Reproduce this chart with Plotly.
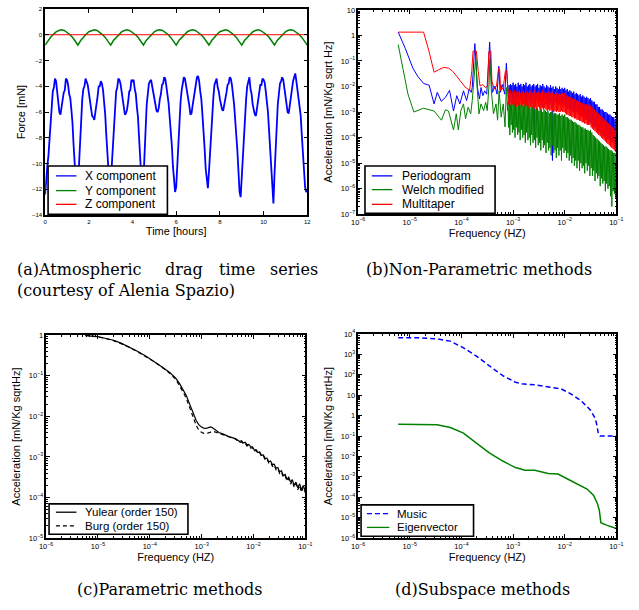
import numpy as np
import plotly.graph_objects as go

# ---------------- (a) Atmospheric drag time series ----------------
time_x = np.linspace(0, 12, 241)  # hours, 0.05 h sampling
force_x = [
    -12.4, -11.0, -10.2, -9.4, -8.0, -6.3, -5.5, -4.4, -4.1, -3.4, -3.6, -4.5, -5.0, -6.0, -6.2, -5.6, -5.4, -4.5, -4.3, -3.4,
    -3.5, -3.9, -4.6, -4.9, -5.8, -6.8, -8.5, -10.2, -11.3, -12.0, -11.8, -10.1, -8.2, -6.2, -5.0, -4.2, -4.0, -3.4, -3.6, -3.9,
    -4.5, -5.2, -5.6, -6.3, -6.4, -6.6, -6.0, -5.1, -4.8, -4.0, -4.0, -3.6, -3.8, -4.3, -5.2, -6.2, -7.8, -9.4, -10.8, -11.9,
    -11.6, -10.0, -8.8, -6.9, -5.6, -4.4, -4.1, -3.4, -3.5, -3.8, -4.4, -5.0, -5.4, -6.2, -6.1, -5.8, -5.2, -4.4, -4.3, -3.5,
    -3.6, -3.5, -4.2, -4.6, -5.6, -6.4, -8.0, -9.8, -11.0, -11.9, -11.4, -9.3, -7.2, -5.4, -4.6, -3.8, -3.6, -3.5, -4.0, -4.5,
    -4.9, -5.6, -5.9, -6.0, -5.7, -5.0, -4.6, -3.9, -3.8, -3.3, -3.4, -4.0, -4.6, -5.3, -6.4, -7.4, -8.6, -10.2, -11.2, -12.2,
    -11.8, -10.0, -8.4, -6.4, -5.2, -4.3, -3.9, -3.3, -3.4, -3.9, -4.3, -5.0, -5.5, -6.2, -6.1, -5.5, -5.0, -4.2, -4.0, -3.3,
    -3.2, -3.6, -4.4, -5.0, -6.2, -7.3, -8.8, -10.4, -11.5, -11.9, -10.6, -9.0, -7.4, -5.8, -4.9, -3.9, -3.6, -3.4, -4.1, -4.4,
    -5.0, -5.5, -5.8, -5.9, -5.5, -4.9, -4.5, -3.9, -3.8, -3.3, -3.4, -3.9, -4.6, -5.4, -6.6, -7.6, -9.0, -10.6, -12.2, -12.6,
    -11.0, -9.2, -7.6, -6.0, -5.0, -4.0, -3.7, -3.3, -4.2, -4.6, -5.4, -5.8, -6.2, -6.3, -5.6, -5.0, -4.6, -3.9, -3.9, -3.4,
    -3.5, -3.7, -4.4, -5.0, -6.0, -7.4, -9.0, -11.0, -12.6, -13.1, -10.8, -8.8, -7.0, -5.4, -4.6, -3.8, -3.6, -3.3, -3.5, -4.2,
    -4.8, -5.5, -6.0, -6.1, -5.4, -4.7, -4.2, -3.6, -3.3, -3.0, -3.6, -4.2, -5.0, -5.6, -6.3, -7.8, -9.5, -10.8, -11.8, -12.2,
    -12.1,
]
time_y = np.linspace(0, 12, 97)  # 0.125 h sampling
force_y = [
    -0.80, -0.45, -0.20, 0.03, 0.22, 0.33, 0.38, 0.33, 0.20, 0.02, -0.20, -0.48,
    -0.80, -0.45, -0.19, 0.04, 0.23, 0.34, 0.39, 0.33, 0.19, 0.01, -0.21, -0.49,
    -0.81, -0.45, -0.20, 0.03, 0.22, 0.33, 0.38, 0.32, 0.20, 0.02, -0.20, -0.48,
    -0.80, -0.44, -0.19, 0.04, 0.23, 0.34, 0.38, 0.33, 0.20, 0.02, -0.21, -0.49,
    -0.81, -0.45, -0.20, 0.03, 0.22, 0.33, 0.38, 0.33, 0.20, 0.02, -0.20, -0.48,
    -0.80, -0.45, -0.19, 0.04, 0.23, 0.34, 0.39, 0.33, 0.19, 0.01, -0.21, -0.49,
    -0.81, -0.45, -0.20, 0.03, 0.22, 0.33, 0.38, 0.32, 0.20, 0.02, -0.20, -0.48,
    -0.80, -0.44, -0.19, 0.04, 0.23, 0.34, 0.38, 0.33, 0.20, 0.02, -0.21, -0.49,
    -0.81,
]
time_z = [0, 12]
force_z = [0.0, 0.0]

# ---------------- (b) Non-parametric spectra (log10 values) ----------------
per_lo_f = [-5.224, -5.086, -4.94, -4.846, -4.733, -4.625, -4.53, -4.468, -4.39, -4.31, -4.23, -4.153, -4.09, -4.03,
            -3.96, -3.9, -3.85, -3.81, -3.79, -3.76, -3.74, -3.72, -3.69, -3.65, -3.62, -3.585, -3.55, -3.51, -3.48,
            -3.453, -3.43, -3.4, -3.35, -3.31, -3.276, -3.25, -3.21, -3.16, -3.13, -3.105]
per_lo_a = [0.13, -0.51, -1.28, -1.6, -1.88, -1.95, -2.68, -2.23, -2.58, -2.43, -2.15, -2.96, -2.36, -2.68,
            -2.17, -2.55, -2.1, -2.23, -2.04, -0.89, -0.32, -1.02, -2.04, -2.49, -2.04, -2.36, -2.17, -2.3, -1.4,
            -0.26, -1.4, -2.23, -1.98, -2.3, -1.21, -2.23, -1.92, -2.3, -1.09, -2.17]
welch_lo_f = [-5.224, -5.13, -5.035, -4.92, -4.733, -4.53, -4.386, -4.31, -4.25, -4.153, -4.1, -4.06, -4.01, -3.96,
              -3.92, -3.87, -3.82, -3.79, -3.75, -3.72, -3.70, -3.66, -3.62, -3.57, -3.53, -3.5, -3.465, -3.45,
              -3.42, -3.38, -3.33, -3.3, -3.27, -3.23, -3.19, -3.155, -3.13, -3.105]
welch_lo_a = [-0.36, -1.4, -2.3, -3.0, -2.85, -2.96, -3.32, -2.91, -2.96, -3.7, -3.07, -3.7, -2.94, -2.68,
              -3.26, -2.81, -3.07, -2.55, -1.4, -0.77, -1.92, -3.07, -2.68, -2.94, -2.62, -2.94, -1.92, -0.9,
              -2.17, -3.07, -2.68, -3.32, -2.17, -3.2, -2.68, -3.58, -2.04, -2.94]
mt_lo_f = [-5.224, -4.733, -4.625, -4.53, -4.44, -4.34, -4.25, -4.18, -4.09, -3.995, -3.93, -3.84, -3.8, -3.775,
           -3.71, -3.675, -3.64, -3.585, -3.535, -3.49, -3.47, -3.43, -3.41, -3.365, -3.32, -3.28, -3.26, -3.24,
           -3.19, -3.15, -3.125, -3.1]
mt_lo_a = [0.13, 0.13, -0.64, -1.44, -1.34, -1.25, -1.28, -1.38, -1.6, -1.85, -2.02, -2.15, -1.4, -0.61,
           -0.61, -1.4, -1.98, -1.92, -2.04, -1.98, -0.64, -0.61, -1.79, -2.1, -1.98, -1.28, -1.34, -2.17,
           -2.04, -1.4, -1.38, -2.17]

# dense noisy band above ~8e-4 Hz: alternating upper (hi) and lower (lo) readings
band_f = np.linspace(-3.1, -1.0, 169)
per_hi = [-2.0, -1.95, -1.9, -1.95, -1.85, -1.95, -1.9, -2.0, -1.85, -1.95,
          -1.9, -2.0, -1.9, -1.95, -1.85, -2.0, -1.95, -1.9, -2.0, -1.95,
          -1.9, -2.0, -1.95, -1.9, -2.05, -1.95, -2.0, -1.9, -2.0, -2.05,
          -1.95, -2.0, -2.05, -1.95, -2.05, -2.0, -2.1, -2.0, -2.05, -2.1,
          -2.0, -2.1, -2.05, -2.1, -2.05, -2.15, -2.1, -2.2, -2.15, -2.2,
          -2.25, -2.2, -2.3, -2.25, -2.3, -2.35, -2.3, -2.4, -2.35, -2.4,
          -2.45, -2.4, -2.45, -2.5, -2.45, -2.55, -2.6, -2.6, -2.7, -2.7,
          -2.8, -2.8, -2.9, -2.9, -2.95, -3.0, -3.0, -3.05, -3.1, -3.1,
          -3.15, -3.2, -3.2, -3.3, -3.25]
per_lo = [-2.5, -2.7, -2.4, -2.6, -2.5, -2.8, -2.45, -2.6, -2.7, -2.5,
          -2.6, -2.45, -2.7, -2.55, -2.6, -2.8, -2.5, -2.6, -2.7, -2.5,
          -4.0, -2.6, -2.5, -2.7, -2.6, -2.55, -2.8, -2.6, -2.5, -2.7,
          -2.6, -2.65, -2.7, -2.6, -4.9, -2.7, -2.6, -2.8, -2.65, -2.7,
          -2.75, -2.7, -2.8, -2.75, -2.85, -2.8, -2.9, -2.85, -2.95, -2.9,
          -3.0, -2.95, -3.05, -3.0, -3.1, -3.1, -3.15, -3.2, -3.2, -3.25,
          -3.3, -3.3, -3.35, -3.4, -3.45, -3.5, -3.55, -3.6, -3.65, -3.7,
          -3.75, -3.8, -3.85, -3.9, -3.95, -4.0, -4.0, -4.05, -4.1, -4.15,
          -4.2, -4.2, -4.25, -4.3]
mt_hi = [-2.15, -2.2, -2.15, -2.25, -2.2, -2.15, -2.25, -2.2, -2.2, -2.15,
         -2.25, -2.2, -2.15, -2.25, -2.2, -2.2, -2.25, -2.15, -2.2, -2.25,
         -2.2, -2.15, -2.25, -2.2, -2.2, -2.25, -2.2, -2.15, -2.25, -2.2,
         -2.25, -2.2, -2.2, -2.25, -2.2, -2.25, -2.3, -2.2, -2.25, -2.3,
         -2.25, -2.3, -2.25, -2.3, -2.25, -2.35, -2.35, -2.4, -2.4, -2.45,
         -2.45, -2.5, -2.5, -2.55, -2.55, -2.6, -2.6, -2.65, -2.65, -2.7,
         -2.7, -2.7, -2.75, -2.7, -2.75, -2.8, -2.85, -2.9, -2.95, -3.0,
         -3.05, -3.1, -3.15, -3.2, -3.25, -3.3, -3.35, -3.4, -3.45, -3.5,
         -3.55, -3.6, -3.65, -3.7, -3.7]
mt_lo = [-2.7, -2.75, -2.65, -2.7, -2.75, -2.7, -2.8, -2.7, -2.75, -2.7,
         -2.8, -2.75, -2.7, -2.8, -2.75, -2.85, -2.75, -2.8, -2.85, -2.8,
         -2.85, -2.8, -2.9, -2.8, -2.85, -2.9, -2.85, -2.9, -2.85, -2.9,
         -2.95, -2.9, -2.95, -2.9, -2.95, -3.0, -2.95, -3.0, -2.95, -3.0,
         -3.0, -2.95, -3.0, -3.0, -3.05, -3.1, -3.1, -3.15, -3.15, -3.2,
         -3.2, -3.25, -3.25, -3.3, -3.3, -3.35, -3.35, -3.4, -3.4, -3.45,
         -3.45, -3.5, -3.5, -3.5, -3.6, -3.65, -3.7, -3.75, -3.8, -3.85,
         -3.9, -3.95, -4.0, -4.05, -4.1, -4.15, -4.2, -4.25, -4.3, -4.35,
         -4.4, -4.45, -4.5, -4.55]
welch_hi = [-2.6, -2.55, -2.7, -2.5, -2.55, -2.65, -2.6, -2.7, -2.55, -2.65,
            -2.7, -2.6, -2.75, -2.65, -2.7, -2.8, -2.7, -2.75, -2.85, -2.75,
            -2.8, -2.9, -2.8, -2.85, -2.95, -2.85, -2.9, -3.0, -2.9, -2.95,
            -3.0, -2.95, -3.05, -3.0, -3.0, -3.1, -3.05, -3.05, -3.1, -3.1,
            -3.05, -3.15, -3.1, -3.15, -3.1, -3.2, -3.2, -3.25, -3.3, -3.3,
            -3.35, -3.4, -3.4, -3.45, -3.5, -3.5, -3.55, -3.6, -3.6, -3.65,
            -3.65, -3.7, -3.7, -3.75, -3.7, -3.8, -3.9, -3.95, -4.0, -4.05,
            -4.1, -4.15, -4.2, -4.25, -4.3, -4.35, -4.35, -4.4, -4.45, -4.5,
            -4.5, -4.55, -4.6, -4.6, -4.65]
welch_lo = [-3.6, -3.9, -3.5, -3.8, -3.7, -4.0, -3.6, -3.9, -3.8, -4.1,
            -3.7, -4.0, -3.9, -4.2, -3.8, -4.1, -4.0, -4.3, -3.9, -4.2,
            -4.1, -4.4, -4.0, -4.3, -4.2, -4.5, -4.1, -4.4, -4.3, -4.6,
            -4.2, -4.5, -4.4, -4.7, -4.3, -4.6, -4.5, -4.8, -4.4, -4.7,
            -4.5, -4.9, -4.4, -4.6, -4.5, -4.8, -4.6, -4.9, -4.7, -5.0,
            -4.8, -5.1, -4.9, -5.2, -4.9, -5.3, -5.0, -5.2, -5.1, -5.4,
            -5.0, -5.3, -5.1, -5.5, -5.2, -5.5, -5.3, -5.7, -5.4, -5.6,
            -5.5, -5.9, -5.6, -5.8, -5.7, -6.1, -5.8, -6.0, -5.9, -6.3,
            -6.7, -6.1, -6.2, -6.4]

# ---------------- (c) Parametric spectra (log10 values) ----------------
yule_f = [-5.245, -5.0, -4.868, -4.7, -4.553, -4.4, -4.24, -4.08, -3.925, -3.77, -3.61, -3.5, -3.42, -3.35, -3.296,
          -3.25, -3.2, -3.15, -3.107, -3.06, -3.01, -2.96, -2.918, -2.87, -2.824, -2.79, -2.76, -2.667, -2.58, -2.478,
          -2.35, -2.30, -2.265, -2.23, -2.195, -2.16, -2.125, -2.09, -2.055, -2.02, -1.985, -1.95, -1.915, -1.88,
          -1.845, -1.81, -1.775, -1.74, -1.705, -1.67, -1.635, -1.60, -1.565, -1.53, -1.495, -1.46, -1.425, -1.39,
          -1.355, -1.32, -1.285, -1.25, -1.215, -1.18, -1.145, -1.11, -1.075, -1.04, -1.0]
yule_a = [-0.016, -0.04, -0.08, -0.13, -0.2, -0.29, -0.4, -0.52, -0.645, -0.78, -0.93, -1.06, -1.21, -1.37, -1.49,
          -1.64, -1.81, -1.97, -2.1, -2.2, -2.26, -2.29, -2.3, -2.28, -2.26, -2.28, -2.31, -2.40, -2.44, -2.50,
          -2.55, -2.58, -2.62, -2.60, -2.66, -2.64, -2.70, -2.69, -2.75, -2.75, -2.83, -2.82, -2.89, -2.88,
          -2.96, -2.95, -3.04, -3.03, -3.12, -3.10, -3.19, -3.18, -3.28, -3.26, -3.37, -3.34, -3.46, -3.43,
          -3.55, -3.50, -3.62, -3.56, -3.70, -3.62, -3.76, -3.66, -3.81, -3.70, -3.84]
burg_f = [-5.245, -5.0, -4.868, -4.7, -4.553, -4.4, -4.24, -4.08, -3.925, -3.77, -3.61, -3.5, -3.42, -3.35, -3.296,
          -3.25, -3.2, -3.15, -3.107, -3.06, -3.01, -2.96, -2.918, -2.87, -2.824, -2.76, -2.667, -2.58, -2.478,
          -2.35, -2.30, -2.265, -2.23, -2.195, -2.16, -2.125, -2.09, -2.055, -2.02, -1.985, -1.95, -1.915, -1.88,
          -1.845, -1.81, -1.775, -1.74, -1.705, -1.67, -1.635, -1.60, -1.565, -1.53, -1.495, -1.46, -1.425, -1.39,
          -1.355, -1.32, -1.285, -1.25, -1.215, -1.18, -1.145, -1.11, -1.075, -1.04, -1.0]
burg_a = [0.0, -0.04, -0.08, -0.14, -0.21, -0.3, -0.41, -0.53, -0.65, -0.79, -0.95, -1.09, -1.25, -1.42, -1.56,
          -1.73, -1.91, -2.08, -2.22, -2.33, -2.39, -2.42, -2.42, -2.41, -2.39, -2.38, -2.42, -2.46, -2.51,
          -2.56, -2.61, -2.64, -2.63, -2.68, -2.67, -2.73, -2.71, -2.78, -2.77, -2.86, -2.84, -2.92, -2.90,
          -2.99, -2.97, -3.07, -3.05, -3.15, -3.13, -3.23, -3.20, -3.32, -3.29, -3.41, -3.37, -3.50, -3.46,
          -3.59, -3.53, -3.67, -3.59, -3.75, -3.66, -3.81, -3.70, -3.87, -3.75, -3.88]

# ---------------- (d) Subspace spectra (log10 values) ----------------
music_f = [-5.224, -4.846, -4.47, -4.215, -3.96, -3.71, -3.46, -3.2, -2.955, -2.83, -2.58, -2.32, -2.07, -1.88,
           -1.69, -1.5, -1.41, -1.378, -1.35, -1.315, -1.0]
music_a = [3.81, 3.81, 3.76, 3.65, 3.32, 2.92, 2.44, 1.96, 1.64, 1.56, 1.51, 1.40, 1.31, 1.07,
           0.75, 0.27, -0.13, -0.45, -0.86, -1.0, -1.0]
eig_f = [-5.224, -4.846, -4.47, -4.215, -3.96, -3.71, -3.46, -3.2, -2.955, -2.77, -2.58, -2.32, -2.13, -1.945,
         -1.755, -1.567, -1.44, -1.366, -1.33, -1.3, -1.19, -1.0]
eig_a = [-0.42, -0.42, -0.45, -0.58, -0.855, -1.34, -1.82, -2.22, -2.54, -2.67, -2.67, -2.83, -2.86, -3.1,
         -3.35, -3.59, -3.91, -4.31, -4.63, -5.24, -5.36, -5.52]

BLUE, GREEN, RED, BLACK = "#0000ff", "#008000", "#ff0000", "#000000"
SANS = "Liberation Sans, Arial, sans-serif"
SERIF = "DejaVu Serif, serif"

W, H = 639, 610


def px(x):
    return x / W


def py(y):
    return 1 - y / H


def p10(a):
    return 10 ** np.asarray(a, dtype=float)


def zigzag(hi, lo):
    out = np.empty(len(hi) + len(lo))
    out[0::2] = hi
    out[1::2] = lo
    return list(out)


fig = go.Figure()

# (a)
fig.add_trace(go.Scatter(x=time_x, y=force_x, mode="lines", name="X component",
                         line=dict(color=BLUE, width=1.8), xaxis="x", yaxis="y"))
fig.add_trace(go.Scatter(x=time_y, y=force_y, mode="lines", name="Y component",
                         line=dict(color=GREEN, width=1.5), xaxis="x", yaxis="y"))
fig.add_trace(go.Scatter(x=time_z, y=force_z, mode="lines", name="Z component",
                         line=dict(color=RED, width=1), xaxis="x", yaxis="y"))

# (b)
bf = list(band_f)
fig.add_trace(go.Scatter(x=p10(per_lo_f + bf), y=p10(per_lo_a + zigzag(per_hi, per_lo)), mode="lines",
                         name="Periodogram", line=dict(color=BLUE, width=1), xaxis="x2", yaxis="y2"))
fig.add_trace(go.Scatter(x=p10(welch_lo_f + bf), y=p10(welch_lo_a + zigzag(welch_hi, welch_lo)), mode="lines",
                         name="Welch modified", line=dict(color=GREEN, width=1), xaxis="x2", yaxis="y2"))
fig.add_trace(go.Scatter(x=p10(mt_lo_f + bf), y=p10(mt_lo_a + zigzag(mt_hi, mt_lo)), mode="lines",
                         name="Multitaper", line=dict(color=RED, width=1), xaxis="x2", yaxis="y2"))

# (c)
fig.add_trace(go.Scatter(x=p10(yule_f), y=p10(yule_a), mode="lines", name="Yulear (order 150)",
                         line=dict(color=BLACK, width=1.2), xaxis="x3", yaxis="y3"))
fig.add_trace(go.Scatter(x=p10(burg_f), y=p10(burg_a), mode="lines", name="Burg (order 150)",
                         line=dict(color=BLACK, width=1.2, dash="4px,3px"), xaxis="x3", yaxis="y3"))

# (d)
fig.add_trace(go.Scatter(x=p10(music_f), y=p10(music_a), mode="lines", name="Music",
                         line=dict(color=BLUE, width=1.5, dash="5px,3px"), xaxis="x4", yaxis="y4"))
fig.add_trace(go.Scatter(x=p10(eig_f), y=p10(eig_a), mode="lines", name="Eigenvector",
                         line=dict(color=GREEN, width=1.5), xaxis="x4", yaxis="y4"))

fig.update_traces(showlegend=False)


def base_axis(domain, title, standoff):
    return dict(
        domain=domain, showline=True, linecolor="black", linewidth=1.5, mirror="ticks",
        ticks="inside", ticklen=4, tickwidth=1, tickcolor="black", showgrid=False, zeroline=False,
        tickfont=dict(family=SANS, size=6, color="black"),
        title=dict(text=title, font=dict(family=SANS, size=11, color="black"), standoff=standoff),
    )


def log_axis(domain, title, rng, standoff):
    d = base_axis(domain, title, standoff)
    d.update(type="log", range=rng, dtick=1, exponentformat="power", showexponent="all",
             minor=dict(ticks="inside", ticklen=2, tickcolor="black", dtick="D1"))
    return d


ax_a = base_axis([px(39), px(307)], "Time [hours]", 3)
ax_a.update(range=[0, 12], dtick=2)
ay_a = base_axis([py(213), py(3)], "Force [mN]", 4)
ay_a.update(range=[-14, 2], dtick=2)

fig.update_layout(
    width=W, height=H, margin=dict(l=0, r=0, t=0, b=0), autosize=False,
    paper_bgcolor="white", plot_bgcolor="white", showlegend=False,
    font=dict(family=SANS, color="black"),
    xaxis=dict(ax_a, anchor="y"),
    yaxis=dict(ay_a, anchor="x"),
    xaxis2=dict(log_axis([px(359), px(623)], "Frequency (HZ)", [-6, -1], 3), anchor="y2"),
    yaxis2=dict(log_axis([py(212), py(4)], "Acceleration [mN/Kg sqrt Hz]", [-7, 1], 6), anchor="x2"),
    xaxis3=dict(log_axis([px(40), px(305)], "Frequency (HZ)", [-6, -1], 3), anchor="y3"),
    yaxis3=dict(log_axis([py(542), py(335)], "Acceleration [mN/Kg sqrtHz]", [-5, 0], 6), anchor="x3"),
    xaxis4=dict(log_axis([px(359), px(623)], "Frequency (HZ)", [-6, -1], 3), anchor="y4"),
    yaxis4=dict(log_axis([py(542), py(334)], "Acceleration [mN/Kg sqrtHz]", [-6, 4], 6), anchor="x4"),
)

shapes = []
annotations = []


def add_legend(box, entries, lx0, lx1, tx, size=12):
    x0, y0, x1, y1 = box
    shapes.append(dict(type="rect", xref="paper", yref="paper", x0=px(x0), x1=px(x1), y0=py(y1), y1=py(y0),
                       line=dict(color="black", width=1.6), fillcolor="white", layer="above"))
    for label, color, dash, yy in entries:
        shapes.append(dict(type="line", xref="paper", yref="paper", x0=px(lx0), x1=px(lx1), y0=py(yy), y1=py(yy),
                           line=dict(color=color, width=1.3, dash=dash), layer="above"))
        annotations.append(dict(text=label, xref="paper", yref="paper", x=px(tx), y=py(yy), xanchor="left",
                                yanchor="middle", showarrow=False, font=dict(family=SANS, size=size, color="black")))


add_legend((42, 163, 164, 212), [("X component", BLUE, "solid", 173), ("Y component", GREEN, "solid", 188),
                                  ("Z component", RED, "solid", 202)], 50, 71, 78)
add_legend((366, 163, 499, 211), [("Periodogram", BLUE, "solid", 173), ("Welch modified", GREEN, "solid", 187),
                                   ("Multitaper", RED, "solid", 202)], 373, 394, 402)
add_legend((43, 507, 185, 538), [("Yulear (order 150)", BLACK, "solid", 515.5),
                                 ("Burg (order 150)", BLACK, "4px,3px", 529.5)], 50, 71, 78, 11.5)
add_legend((362, 508, 477, 540), [("Music", BLUE, "5px,3px", 517), ("Eigenvector", GREEN, "solid", 531)],
           368, 391, 397, 11.5)


def caption(text, x, y, anchor="left"):
    annotations.append(dict(text=text, xref="paper", yref="paper", x=px(x), y=py(y), xanchor=anchor,
                            yanchor="middle", showarrow=False, font=dict(family=SERIF, size=16, color="black")))


caption("(a)Atmospheric", 8, 268)
caption("drag", 159, 268)
caption("time", 215, 268)
caption("series", 320, 268, "right")
caption("(courtesy of Alenia Spazio)", 8, 290)
caption("(b)Non-Parametric methods", 365, 268)
caption("(c)Parametric methods", 167, 594, "center")
caption("(d)Subspace methods", 486, 594, "center")

fig.update_layout(shapes=shapes, annotations=annotations)

fig.write_html("out.html")
